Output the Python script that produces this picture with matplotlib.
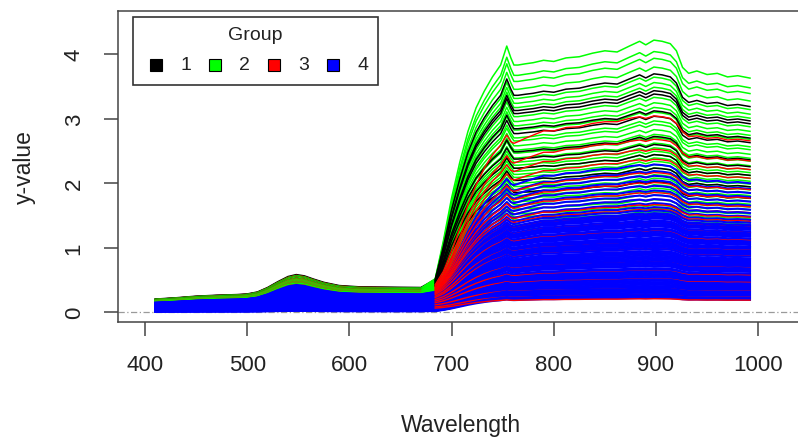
import matplotlib
matplotlib.use("Agg")
import matplotlib.pyplot as plt
from matplotlib.patches import Rectangle
import numpy as np

plt.rcParams['font.family'] = ['Liberation Sans', 'DejaVu Sans']

# wavelength knots (nm) where the spectra are sampled
wavelength = [410, 430, 450, 470, 490, 500, 510, 520, 530, 540, 548, 556, 565, 575, 590,
              610, 640, 670, 684, 692, 700, 708, 716, 724, 732, 740, 748, 754, 758, 761,
              765, 772, 780, 790, 800, 812, 825, 838, 850, 862, 874, 884, 890, 898, 906,
              914, 920, 926, 932, 940, 950, 960, 970, 980, 992]

# visible part of the brightest spectrum (green peak near 550 nm)
vis_shape = [0.20, 0.22, 0.245, 0.26, 0.27, 0.28, 0.31, 0.38, 0.47, 0.55, 0.58, 0.56, 0.51, 0.46, 0.41,
             0.39, 0.385, 0.38, 0.38, 0.38, 0.38, 0.38, 0.38, 0.38, 0.38, 0.38, 0.38, 0.38, 0.38, 0.38,
             0.38, 0.38, 0.38, 0.38, 0.38, 0.38, 0.38, 0.38, 0.38, 0.38, 0.38, 0.38, 0.38, 0.38, 0.38,
             0.38, 0.38, 0.38, 0.38, 0.38, 0.38, 0.38, 0.38, 0.38, 0.38]

# red-edge / NIR plateau, relative to the value at 850 nm
edge_steep = [0, 0, 0, 0, 0, 0, 0, 0, 0, 0, 0, 0, 0, 0, 0,
              0, 0, 0, 0.04, 0.2, 0.38, 0.53, 0.66, 0.76, 0.83, 0.89, 0.94, 1.02, 0.97, 0.94,
              0.94, 0.945, 0.95, 0.96, 0.955, 0.97, 0.975, 0.99, 1.0, 0.995, 1.02, 1.04, 1.025, 1.045, 1.04,
              1.03, 1.0, 0.93, 0.905, 0.915, 0.9, 0.905, 0.89, 0.895, 0.885]
edge_soft = [0, 0, 0, 0, 0, 0, 0, 0, 0, 0, 0, 0, 0, 0, 0,
             0, 0, 0, 0.02, 0.1, 0.22, 0.36, 0.5, 0.62, 0.72, 0.8, 0.86, 0.92, 0.88, 0.87,
             0.88, 0.9, 0.92, 0.945, 0.945, 0.965, 0.97, 0.99, 1.0, 1.0, 1.02, 1.03, 1.02, 1.035, 1.03,
             1.02, 0.99, 0.94, 0.91, 0.915, 0.9, 0.905, 0.89, 0.895, 0.885]

# per spectrum: value at 850 nm and relative visible amplitude
g1_level = [3.55, 3.30, 3.25, 3.0, 2.92, 2.62, 2.5, 2.35, 2.15, 1.95]
g1_vis = [1.0, 0.98, 0.97, 0.95, 0.95, 0.93, 0.92, 0.9, 0.9, 0.88]

g2_level = [4.05, 3.88, 3.78, 3.65, 3.5, 3.42, 3.35, 3.2, 3.12, 3.05, 2.98, 2.85, 2.8,
            2.72, 2.65, 2.6, 2.52, 2.45, 2.4, 2.35, 2.3, 2.25, 2.2, 2.15, 2.1, 2.05,
            2.0, 1.95, 1.9, 1.85, 1.8, 1.75, 1.68, 1.6, 1.55, 1.5, 1.42, 1.35]
g2_vis = [0.97, 0.96, 0.95, 0.95, 0.94, 0.93, 0.93, 0.92, 0.92, 0.91, 0.9, 0.9, 0.89,
          0.88, 0.88, 0.87, 0.86, 0.86, 0.85, 0.85, 0.84, 0.83, 0.83, 0.82, 0.82, 0.81,
          0.8, 0.8, 0.79, 0.78, 0.78, 0.77, 0.76, 0.76, 0.75, 0.74, 0.74, 0.73]

g3_level = [2.95, 2.6, 2.45, 2.3, 2.1, 1.95, 1.8, 1.7, 1.62, 1.55, 1.45, 1.35, 1.22,
            1.05, 0.95, 0.75, 0.62, 0.5, 0.35, 0.25, 0.2]
g3_vis = [0.98, 0.95, 0.93, 0.9, 0.88, 0.86, 0.84, 0.82, 0.8, 0.78, 0.74, 0.7, 0.66,
          0.6, 0.55, 0.48, 0.42, 0.36, 0.28, 0.2, 0.15]

g4_level = [2.22, 2.12, 2.05, 1.98, 1.9, 1.83, 1.76, 1.7, 1.64, 1.58, 1.53, 1.49,
            1.47, 1.45, 1.43, 1.41, 1.38, 1.36, 1.35, 1.33, 1.31, 1.29, 1.26, 1.25,
            1.23, 1.21, 1.19, 1.17, 1.15, 1.12, 1.11, 1.09, 1.07, 1.05, 1.03, 1.01,
            0.99, 0.97, 0.95, 0.92, 0.91, 0.89, 0.87, 0.85, 0.83, 0.81, 0.79, 0.77,
            0.75, 0.73, 0.71, 0.69, 0.66, 0.65, 0.63, 0.61, 0.59, 0.57, 0.55, 0.53,
            0.51, 0.49, 0.47, 0.45, 0.43, 0.41, 0.39, 0.37, 0.35, 0.33, 0.31, 0.29,
            0.27, 0.25, 0.23, 0.21]
g4_vis = [0.72, 0.71, 0.70, 0.70, 0.69, 0.68, 0.68, 0.67, 0.66, 0.66, 0.65, 0.65,
          0.64, 0.63, 0.62, 0.61, 0.60, 0.59, 0.58, 0.57, 0.56, 0.55,
          0.54, 0.53, 0.52, 0.51, 0.50, 0.49, 0.48, 0.47, 0.46, 0.45,
          0.44, 0.43, 0.42, 0.41, 0.40, 0.39, 0.38, 0.37, 0.36, 0.35,
          0.34, 0.33, 0.32, 0.31, 0.30, 0.29, 0.28, 0.27, 0.26, 0.25,
          0.24, 0.23, 0.22, 0.21, 0.20, 0.19, 0.18, 0.17, 0.16, 0.15,
          0.14, 0.13, 0.12, 0.11, 0.10, 0.09, 0.08, 0.07, 0.06, 0.05,
          0.05, 0.04, 0.04, 0.03]

group_labels = ['1', '2', '3', '4']
group_colors = ['black', '#00FF00', '#FF0000', '#0000FF']

xticks = [400, 500, 600, 700, 800, 900, 1000]
yticks = [0, 1, 2, 3, 4]

W, H = 798, 439
def fx(px):
    return px / W
def fy(py):
    return 1 - py / H

fig = plt.figure(figsize=(W / 100, H / 100), dpi=100)
ax = fig.add_axes([fx(118), fy(323), fx(806) - fx(118), fy(12) - fy(323)])

wl = np.array(wavelength)
vis = np.array(vis_shape)
spectra = {}
for gi, (levels, amps, edge) in enumerate([(g1_level, g1_vis, edge_steep),
                                           (g2_level, g2_vis, edge_steep),
                                           (g3_level, g3_vis, edge_soft),
                                           (g4_level, g4_vis, edge_soft)]):
    edge = np.array(edge)
    spectra[gi] = [(lev, a, a * vis + (lev - a * vis[-1]) * edge)
                   for lev, a in zip(levels, amps, strict=True)]

ax.axhline(0, color='#9a9a9a', lw=0.9, ls=(0, (5, 2, 1, 2)), zorder=0)
cut = wavelength.index(684)
line_w = {0: 1.1, 1: 1.1, 2: 1.0, 3: 1.5}

# visible part: groups 1-3 mixed by brightness, blue drawn last
upper = [(a, gi, y) for gi in [0, 1, 2] for lev, a, y in spectra[gi]]
upper.sort(key=lambda t: -t[0])
for a, gi, y in upper:
    ax.plot(wl[:cut + 1], y[:cut + 1], color=group_colors[gi], lw=line_w[gi], zorder=2)
for lev, a, y in spectra[3]:
    ax.plot(wl[:cut + 1], y[:cut + 1], color=group_colors[3], lw=line_w[3], zorder=2)

# red edge and NIR: green, black, then red and blue interleaved from high to low
for gi in [1, 0]:
    for lev, a, y in spectra[gi]:
        ax.plot(wl[cut:], y[cut:], color=group_colors[gi], lw=line_w[gi], zorder=2)
lower = [(lev, gi, y) for gi in [2, 3] for lev, a, y in spectra[gi]]
lower.sort(key=lambda t: -t[0])
for lev, gi, y in lower:
    ax.plot(wl[cut:], y[cut:], color=group_colors[gi], lw=line_w[gi], zorder=2)

ax.set_xlim(373.6, 1046.8)
ax.set_ylim(-0.155, 4.667)
ax.set_xticks(xticks)
ax.set_yticks(yticks)
ax.spines['right'].set_visible(False)
for s in ['left', 'bottom', 'top']:
    ax.spines[s].set_color('#444444')
    ax.spines[s].set_linewidth(1.1)
ax.tick_params(axis='both', direction='out', length=10, width=1.1, color='#444444',
               labelsize=16, labelcolor='#222222')
ax.tick_params(axis='x', pad=13)
ax.tick_params(axis='y', pad=14)
for t in ax.get_yticklabels():
    t.set_rotation(90)
    t.set_va('center')

fig.text(fx(461), fy(426), 'Wavelength', ha='center', va='center', fontsize=16.5, color='#222222')
fig.text(fx(24), fy(167), 'y-value', ha='center', va='center', rotation=90, fontsize=16.5, color='#222222')

# legend box drawn by hand to match the R layout
fig.add_artist(Rectangle((fx(133), fy(86)), fx(378) - fx(133), fy(18) - fy(86),
                         transform=fig.transFigure, facecolor='white', edgecolor='#333333', lw=1.2))
fig.text(fx(255), fy(36), 'Group', ha='center', va='center', fontsize=14, color='#222222')
sq = 12
for i, (lab, col) in enumerate(zip(group_labels, group_colors)):
    cx = 156 + i * 58.9
    fig.add_artist(Rectangle((fx(cx - sq / 2), fy(66 + sq / 2)), sq / W, sq / H,
                             transform=fig.transFigure, facecolor=col, edgecolor='black', lw=0.8))
    fig.text(fx(cx + 30), fy(66), lab, ha='center', va='center', fontsize=14, color='#222222')

fig.savefig('out.png', dpi=100)
